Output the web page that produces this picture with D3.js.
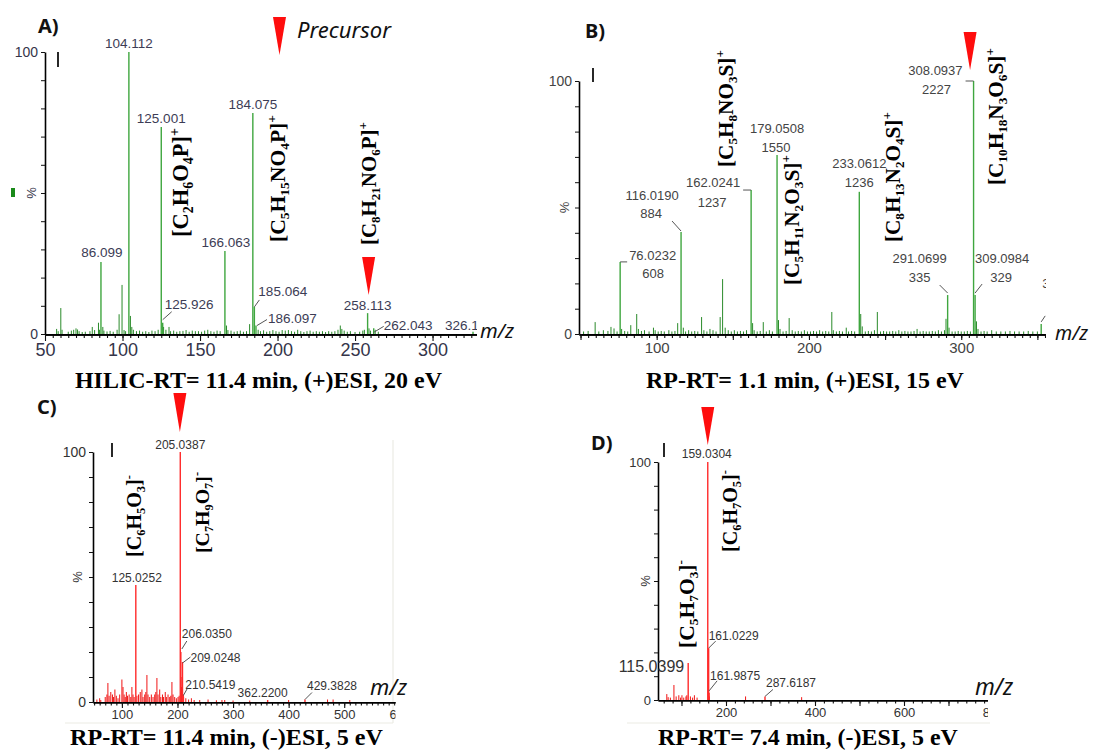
<!DOCTYPE html>
<html><head><meta charset="utf-8">
<script src="https://cdn.jsdelivr.net/npm/d3@7"></script>
<style>body{margin:0;background:#fff}svg{display:block}</style>
</head><body>
<svg id="c" width="1093" height="751"></svg>
<script>
// ================= DATA =================
// Panel A : HILIC-RT 11.4 min, (+)ESI, 20 eV   [m/z, relative intensity %]
const A_peaks = [[104.112,100],[125.001,73.4],[184.075,78.4],[166.063,29.4],[86.099,25.5],[125.926,4],[185.064,9.6],[186.097,3],[258.113,7.4],[262.043,2],[326.1,0.8]];
const A_labels = ["104.112","125.001","184.075","166.063","86.099","125.926","185.064","186.097","258.113","262.043","326.1"];
const A_minor = [[57.5,1.8],[58.5,1],[60.2,9.2],[61,1.5],[65,0.8],[67,1.2],[68.5,1.5],[70,2],[71,1.6],[72,1],[74,0.7],[76,0.8],[79,1],[80.5,2.5],[82,1.4],[84.5,4],[85.2,1.5],[87.3,2.5],[88,1.2],[90,0.9],[92,1.1],[94,0.8],[96.5,1.5],[97.8,7],[99.7,17.4],[101,1.4],[102,1],[105.1,6.4],[106,2.5],[107,1.5],[109,1],[111,1.2],[113,0.8],[115,1],[117,0.7],[119,1.2],[121,1],[123,1.5],[126.5,2.5],[128,1.5],[130,2.5],[131,1],[133,1.2],[135,0.8],[137,1],[139,1.1],[141,1.4],[143,0.8],[145,1.2],[147,1],[149,1],[151,0.8],[153,1.2],[155,1.5],[157,1],[159,0.8],[161,1.2],[163,1],[167.1,3],[168,1.4],[170,1.2],[172,0.8],[174,1],[176,1.2],[178,0.8],[180,1],[182,3.5],[187.5,1.5],[189,1],[191,1.3],[193,0.8],[195,1],[197,1.4],[199,1],[201,0.8],[203,1.4],[205,1.2],[207,1.4],[209,1],[211,0.8],[213,1.5],[215,1],[217,0.7],[219,1],[221,1.2],[223,0.8],[225,1],[227,0.8],[229,1],[231,0.7],[233,1],[235,0.8],[237,1],[239,1.5],[240.5,3],[241.5,1.8],[243,1.2],[245,0.8],[247,1],[250,0.7],[253,0.8],[255,1.2],[256,1.5],[259,2],[260,1.2],[263,1.5],[265,0.8]];
const A_formulas = ["[C_2H_6O_4P]^+","[C_5H_15NO_4P]^+","[C_8H_21NO_6P]^+"];
const A_xTicks = [50,100,150,200,250,300];
const A_precursor = 258.113;
const A_caption = "HILIC-RT= 11.4 min, (+)ESI, 20 eV";

// Panel B : RP-RT 1.1 min, (+)ESI, 15 eV
const B_peaks = [[308.0937,100],[179.0508,70.8],[162.0241,56.9],[116.0190,40.3],[76.0232,28.5],[233.0612,56.2],[291.0699,15.4],[309.0984,15.4],[352.5,4]];
const B_labels = ["308.0937","179.0508","162.0241","116.0190","76.0232","233.0612","291.0699","309.0984","352.1"];
const B_counts = ["2227","1550","1237","884","608","1236","335","329",""];
const B_minor = [[52,1],[55,1.2],[59.6,4.7],[62,1],[65,1.5],[68,1.2],[70,2.8],[72,2.2],[74,1],[77,2],[79,1.2],[81,1],[83,3.5],[86.9,7.9],[88,2],[90,1.2],[92,1.5],[95,1],[97.9,2.5],[99,1.5],[101,1],[103,1.2],[105,1],[108,1.5],[110,1],[112,1.2],[113.8,4.3],[117.5,2.5],[119,1],[121,1.5],[123,1],[125,1.2],[127,1],[129.5,6.7],[131,1.5],[133,1],[135,2],[137,1.5],[139,1],[141.7,6.7],[143.3,21.7],[145,2.5],[147,1.5],[149,1],[151,1.5],[153,1],[155,1.2],[157,1],[159,1.5],[163,4.3],[164,1.5],[166,1],[168,1.2],[170,4.7],[172,1],[174,1.5],[176,1],[180,5.5],[181,2],[183,1],[185,1.2],[187,6.3],[189,1.5],[191,1],[193,1.2],[195,1],[197,1.5],[199,1],[201,1],[203,1.2],[205,1],[207,1.5],[209,1],[211,1.2],[213,1],[215,8.7],[216,1.5],[218,1],[220,1.2],[222,1],[224.5,2.5],[226,1],[228,1.2],[230,1],[234,7.9],[235,3],[237,1],[239,1.2],[241,1],[243,1.5],[244.9,8.7],[247,1],[249,1.2],[251,1],[253,1],[255,1.2],[257,1],[259,1.5],[261,1],[263,1.2],[265,1],[267,1],[269,1.2],[271,2],[273,1],[275,1.2],[277,1],[279,1],[281,1.2],[283,1],[285,1.5],[287,1],[289,1.5],[290,6],[292,2.5],[294,1],[296,1],[298,1.2],[300,1],[302,1],[304,1.2],[306,1],[310,5],[311,2],[313,1],[315,1.2],[317,1],[320,1.5],[323,1],[326,1],[329,1],[332,1.2],[335,1],[338,1],[341,1],[344,1.2],[347,1],[350,1]];
const B_formulas = ["[C_5H_8NO_3S]^+","[C_5H_11N_2O_3S]^+","[C_8H_13N_2O_4S]^+","[C_10H_18N_3O_6S]^+"];
const B_xTicks = [100,200,300];
const B_precursor = 308.0937;
const B_caption = "RP-RT= 1.1 min, (+)ESI, 15 eV";

// Panel C : RP-RT 11.4 min, (-)ESI, 5 eV
const C_peaks = [[205.0387,100],[125.0252,46.8],[206.0350,20],[209.0248,16],[210.5419,3],[362.22,0.8],[429.3828,1]];
const C_labels = ["205.0387","125.0252","206.0350","209.0248","210.5419","362.2200","429.3828"];
const C_minor = [[55,1],[60,1.5],[62,0.8],[70,2],[73,3],[74.8,7.6],[77,2.5],[80,4],[83,3],[85,2],[87.4,5],[90,2.5],[93,1.5],[96,3],[100,9],[102,6],[104,3],[106,2],[108,4],[110,2.5],[113,3],[116,2],[118,6],[120,3],[122,2],[127,2.5],[130,3],[133,4],[136,5],[138,2],[141,3],[143,4],[145,10.8],[147,3],[150,2],[153,3],[156,2],[159,3],[161,4],[163,9.6],[165,3],[168,5],[170,2],[173,3],[175,2],[178,4],[180,2],[183,3],[186,2],[188,2.5],[190,8],[192,3],[195,2],[198,1.5],[201,2],[203,2.5],[207,6],[208,10],[211,2],[215,1.5],[220,1],[225,1.5],[230,0.8],[240,0.8],[255,1],[270,0.7],[280,0.8],[285,0.8],[300,0.6],[330,0.6],[400,0.8],[470,1],[480,1],[510,0.8]];
const C_formulas = ["[C_6H_5O_3]^-","[C_7H_9O_7]^-"];
const C_xTicks = [100,200,300,400,500,600];
const C_precursor = 205.0387;
const C_caption = "RP-RT= 11.4 min, (-)ESI, 5 eV";

// Panel D : RP-RT 7.4 min, (-)ESI, 5 eV
const D_peaks = [[159.0304,100],[161.0229,21.8],[115.0399,15.5],[161.9875,3],[287.6187,1.5]];
const D_labels = ["159.0304","161.0229","115.0399","161.9875","287.6187"];
const D_minor = [[67,2.5],[70,1.2],[75,1],[83,6.3],[88,1.5],[94,2],[98,1],[101,2],[105,1],[110,1.5],[112,2],[120,1.5],[125,1],[129,2],[135,1],[160.5,4],[162.5,1.5],[244,1.5],[370,1.2]];
const D_formulas = ["[C_6H_7O_5]^-","[C_5H_7O_3]^-"];
const D_xTicks = [200,400,600,800];
const D_precursor = 159.0304;
const D_caption = "RP-RT= 7.4 min, (-)ESI, 5 eV";

// ================= DRAWING =================
const svg = d3.select("#c");
const SERIF = "'Liberation Serif','Times New Roman',serif";
const SANS = "'Liberation Sans',Arial,sans-serif";
const HUM = "'Noto Sans','Open Sans',sans-serif";

function richText(t, str){
  str.match(/_[0-9]+|\^[+\-]|[^_^]+/g).forEach(tok=>{
    if(tok[0]==='_') t.append('tspan').attr('class','sub').attr('font-size','62%').text(tok.slice(1));
    else if(tok[0]==='^') t.append('tspan').attr('class','sup').attr('font-size','62%').text(tok.slice(1));
    else t.append('tspan').attr('class','nrm').text(tok);
  });
}
function shiftScripts(t){
  const fs = +t.attr('font-size');
  let cur = 0;
  t.selectAll('tspan').each(function(){
    const c = this.getAttribute('class');
    const target = c==='sub' ? 0.2*fs : c==='sup' ? -0.42*fs : 0;
    this.setAttribute('dy', target-cur);
    cur = target;
  });
}
function fit(t, target){
  const fs = +t.attr('font-size');
  const w = t.node().getComputedTextLength();
  if(w>0) t.attr('font-size', fs*target/w);
}

function drawPanel(P){
  const g = svg.append('g');
  const x = d3.scaleLinear().domain(P.xDomain).range(P.xRange);
  const y = d3.scaleLinear().domain([0,100]).range(P.yRange);
  const cid = 'clip'+P.id;
  svg.append('clipPath').attr('id',cid).append('rect')
    .attr('x',P.xRange[0]-60).attr('y',0).attr('width',P.clipRight-P.xRange[0]+60).attr('height',751);

  if(P.frame) P.frame.forEach(f=>g.append('line').attr('x1',f[0]).attr('y1',f[1]).attr('x2',f[2]).attr('y2',f[3]).attr('stroke','#ebebe4').attr('stroke-width',1.2));

  g.append('g').selectAll('line').data(P.minor).join('line')
    .attr('x1',d=>x(d[0])).attr('x2',d=>x(d[0])).attr('y1',y(0)).attr('y2',d=>y(d[1]))
    .attr('stroke',P.noiseColor).attr('stroke-width',1);
  g.append('g').selectAll('line').data(P.peaks).join('line')
    .attr('x1',d=>x(d[0])).attr('x2',d=>x(d[0])).attr('y1',y(0)).attr('y2',d=>y(d[1]))
    .attr('stroke',P.color).attr('stroke-width',1.4);

  const xa = g.append('g').attr('transform',`translate(0,${y(0)})`).attr('clip-path',`url(#${cid})`);
  xa.append('g').call(d3.axisBottom(x).tickValues(P.minorTicks).tickSize(P.minorLen).tickSizeOuter(0).tickFormat(''));
  xa.append('g').call(d3.axisBottom(x).tickValues(P.majorTicks).tickSize(P.majorLen).tickSizeOuter(0)
      .tickFormat(d=>P.xLabels.includes(d)?d:'').tickPadding(2));
  xa.selectAll('.domain').attr('stroke','#000').attr('stroke-width',P.axisW);
  xa.selectAll('.tick line').attr('stroke','#111').attr('stroke-width',1.1);
  xa.selectAll('.tick text').attr('font-family',SANS).attr('font-size',P.xFont).attr('fill',P.tickColor);

  const ya = g.append('g').attr('transform',`translate(${P.xRange[0]},0)`);
  ya.call(d3.axisLeft(y).tickValues(d3.range(0,101,10)).tickSize(4).tickSizeOuter(0).tickPadding(3)
      .tickFormat(d=>(d===0||d===100)?d:''));
  ya.select('.domain').attr('stroke','#000').attr('stroke-width',1.6);
  ya.selectAll('.tick line').attr('stroke','#111');
  ya.selectAll('.tick text').attr('font-family',SANS).attr('font-size',P.yFont).attr('fill',P.tickColor);
  g.append('text').attr('transform',`translate(${P.pctX},${y(50)}) rotate(-90)`)
    .attr('text-anchor','middle').attr('font-family',SANS).attr('font-size',13).attr('fill',P.tickColor).text('%');
  g.append('line').attr('x1',P.mark[0]).attr('x2',P.mark[0]).attr('y1',P.mark[1]).attr('y2',P.mark[2])
    .attr('stroke','#111').attr('stroke-width',1.8);

  const lg = g.append('g').attr('clip-path',`url(#${cid})`);
  P.peaks.forEach((d,i)=>{
    const L = P.labelLayout[i]; if(!L) return;
    const px = x(d[0]), py = y(d[1]);
    const lines = [P.labels[i]].concat(P.counts && P.counts[i] ? [P.counts[i]] : []);
    lines.forEach((s,k)=>{
      const o = L.l[k];
      lg.append('text').attr('x',px+o[0]).attr('y',py+o[1]).attr('text-anchor',o[2])
        .attr('font-family',SANS).attr('font-size',L.fs||P.labelFont).attr('fill',P.labelColor).text(s);
    });
    if(L.leader) lg.append('line').attr('x1',px+L.leader[0]).attr('y1',py+L.leader[1])
      .attr('x2',px+L.leader[2]).attr('y2',py+L.leader[3]).attr('stroke','#555').attr('stroke-width',1);
  });

  P.formulas.forEach((f,i)=>{
    const F = P.formulaLayout[i];
    const t = g.append('text').attr('transform',`translate(${F[0]},${F[1]}) rotate(-90)`)
      .attr('font-family',SERIF).attr('font-weight','bold').attr('font-size',20).attr('fill','#000');
    richText(t,f); fit(t,F[2]); shiftScripts(t);
  });

  const T = P.tri, cx = x(P.precursor)+T[0];
  g.append('path').attr('d',`M${cx-6.5},${T[1]}L${cx+6.5},${T[1]}L${cx},${T[2]}Z`).attr('fill','#ff0d0d');

  const mz = g.append('text').attr('x',P.mz[0]).attr('y',P.mz[1]).attr('font-family',HUM)
    .attr('font-style','italic').attr('font-size',20).attr('fill','#111').text('m/z');
  fit(mz,P.mz[2]);
  const cap = g.append('text').attr('x',P.cap[0]).attr('y',P.cap[1]).attr('font-family',SERIF)
    .attr('font-weight','bold').attr('font-size',24).attr('fill','#000').text(P.caption);
  fit(cap,P.cap[2]);
  g.append('text').attr('x',P.letter[0]).attr('y',P.letter[1]).attr('font-family',HUM)
    .attr('font-weight','bold').attr('font-size',20).attr('fill','#111').text(P.letter[2]);
}

const r = (a,b,s)=>d3.range(a,b+0.001,s);

drawPanel({id:'A', xDomain:[50,329], xRange:[45,477.5], yRange:[334,52], clipRight:477,
  peaks:A_peaks, minor:A_minor, labels:A_labels, color:'#3fa63f', noiseColor:'#2a8a2a',
  minorTicks:r(55,325,5), majorTicks:A_xTicks, xLabels:A_xTicks, minorLen:4, majorLen:7, axisW:2.6,
  xFont:18, yFont:14, tickColor:'#35354a', labelColor:'#3c3c55', labelFont:13.5, pctX:36, mark:[58,52,67],
  labelLayout:[
    {l:[[0,-4,'middle']]},{l:[[0,-4,'middle']]},{l:[[0,-4,'middle']]},{l:[[1,-4,'middle']]},{l:[[1,-5,'middle']]},
    {l:[[2,-14,'start']],leader:[0,-3,9,-11]},
    {l:[[4,-11,'start']],leader:[0,0,5,-7]},
    {l:[[12,-2.5,'start']],leader:[1,0,11,-6]},
    {l:[[0,-3,'middle']]},
    {l:[[10,2,'start']],leader:[0,4,10,-2]},
    {l:[[-28,-2,'start']]}],
  formulas:A_formulas, formulaLayout:[[188,237,109],[285,242,127],[376,245,123]],
  precursor:A_precursor, tri:[1,257,295], mz:[480,338,34],
  caption:A_caption, cap:[75,388,367], letter:[38,33,'A)']});

drawPanel({id:'B', xDomain:[49,355], xRange:[579,1045], yRange:[334,81], clipRight:1046,
  peaks:B_peaks, minor:B_minor, labels:B_labels, counts:B_counts, color:'#3fa63f', noiseColor:'#2a8a2a',
  minorTicks:r(50,355,5), majorTicks:r(50,350,50), xLabels:B_xTicks, minorLen:4, majorLen:6, axisW:2.6,
  xFont:15, yFont:14, tickColor:'#444', labelColor:'#444', labelFont:13, pctX:569, mark:[593,68,82],
  labelLayout:[
    {l:[[-11,-6,'end'],[-37,13,'middle']],leader:[-8,0,0,0]},
    {l:[[0,-22,'middle'],[-1,-3,'middle']]},
    {l:[[-38,-3,'middle'],[-39,17,'middle']],leader:[-8,0,0,0]},
    {l:[[-29,-32,'middle'],[-30,-14,'middle']],leader:[-9,-11,0,-1]},
    {l:[[9,-2,'start'],[33,16,'middle']],leader:[0,0,7,0]},
    {l:[[0,-24,'middle'],[0,-5,'middle']]},
    {l:[[-28,-32,'middle'],[-28,-13,'middle']],leader:[-8,-10,0,-2]},
    {l:[[27,-32,'middle'],[26,-13,'middle']],leader:[7,-11,0,-2]},
    {l:[[1,-36,'start']],leader:[0,-2,4,-8]}],
  formulas:B_formulas, formulaLayout:[[733,167,117],[799,285,130],[900,242,130],[1003,185,137]],
  precursor:B_precursor, tri:[-3.5,32,70], mz:[1055,340,33],
  caption:B_caption, cap:[646,388,318], letter:[585,38,'B)']});

drawPanel({id:'C', xDomain:[48,600], xRange:[93,399.8], yRange:[702,452], clipRight:395.5,
  peaks:C_peaks, minor:C_minor, labels:C_labels, color:'#ff2a2a', noiseColor:'#f01515',
  minorTicks:r(50,600,10), majorTicks:C_xTicks, xLabels:C_xTicks, minorLen:3.5, majorLen:6, axisW:1.8,
  xFont:13, yFont:14, tickColor:'#333', labelColor:'#333', labelFont:12, pctX:82, mark:[112,443,457],
  labelLayout:[
    {l:[[0,-3,'middle']]},{l:[[1,-3,'middle']]},
    {l:[[1,-14,'start']],leader:[1,-3,6,-11]},
    {l:[[8,0,'start']],leader:[0,1,8,-5]},
    {l:[[2,-6,'start']],leader:[0,1,4,-6]},
    {l:[[-5,-3,'middle']]},
    {l:[[2,-9.5,'start']],leader:[0,0,7,-7]}],
  formulas:C_formulas, formulaLayout:[[141,557,82],[209,553,81]],
  precursor:C_precursor, tri:[-0.4,393,432], mz:[370,695,37],
  frame:[[393,440,393,723],[65,723,393,723]],
  caption:C_caption, cap:[70,745,313], letter:[37,414,'C)']});

drawPanel({id:'D', xDomain:[47.2,800], xRange:[658,993], yRange:[700,462], clipRight:988,
  peaks:D_peaks, minor:D_minor, labels:D_labels, color:'#ff2a2a', noiseColor:'#f01515',
  minorTicks:r(60,800,20), majorTicks:r(100,800,100), xLabels:D_xTicks, minorLen:3.5, majorLen:6, axisW:1.8,
  xFont:13, yFont:13, tickColor:'#333', labelColor:'#333', labelFont:12, pctX:650, mark:[664,443,457],
  labelLayout:[
    {l:[[-1,-4,'middle']]},
    {l:[[0,-8,'start']],leader:[0,0,7,-7]},
    {l:[[-4,9,'end']],fs:16},
    {l:[[1,-13,'start']],leader:[0,-2,8,-12]},
    {l:[[1,-9,'start']],leader:[0,0,8,-7]}],
  formulas:D_formulas, formulaLayout:[[737,552,82],[694,648,88]],
  precursor:D_precursor, tri:[0,407,445], mz:[975,695,38],
  frame:[[627,723,990,723]],
  caption:D_caption, cap:[658,745,300], letter:[591,450,'D)']});

svg.append('path').attr('d','M273,17L286,17L279.5,55Z').attr('fill','#ff0d0d');
const pl = svg.append('text').attr('x',297).attr('y',38).attr('font-family',HUM).attr('font-style','italic')
  .attr('font-size',20).attr('fill','#111').text('Precursor');
fit(pl,94);
svg.append('rect').attr('x',11).attr('y',188).attr('width',4).attr('height',9).attr('fill','#1a8a1a');
</script>
</body></html>
